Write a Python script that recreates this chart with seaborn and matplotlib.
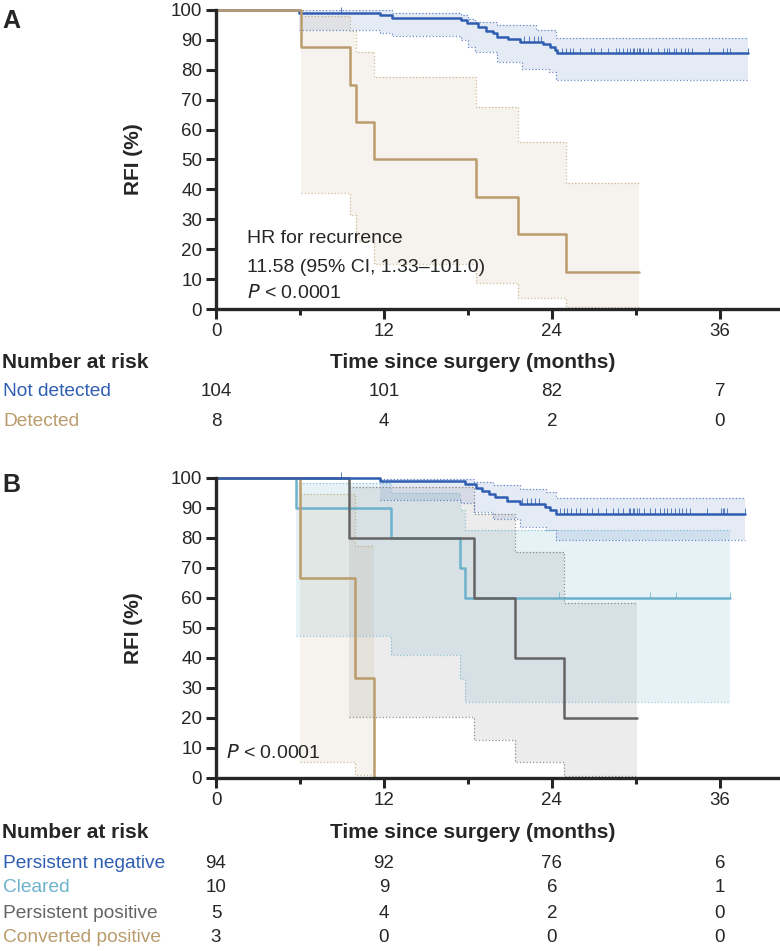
import numpy as np
import matplotlib
matplotlib.use('Agg')
import matplotlib.pyplot as plt
import matplotlib.transforms as mtransforms
import seaborn as sns

sns.set_style('ticks')
plt.rcParams['font.family'] = ['Liberation Sans', 'DejaVu Sans']

# ---- panel A data ----
nd_t = [0, 5.9, 11.7, 12.6, 17.5, 17.9, 18.7, 19.3, 19.8, 20.1, 20.9, 21.7, 23.4, 23.9, 24.2, 24.4, 38.0]
nd_s = [100, 99.1, 98.3, 97.4, 96.6, 95.5, 94.4, 93.0, 92.2, 91.0, 90.2, 89.4, 88.5, 87.7, 86.6, 85.5, 85.5]
nd_ci_t = [5.9, 11.7, 12.6, 17.5, 18.0, 18.5, 20.1, 21.9, 22.9, 23.8, 24.3, 38.0]
nd_hi = [100, 100, 99.1, 98.3, 97.0, 96.0, 95.0, 95.0, 93.3, 93.3, 90.7, 90.7]
nd_lo = [93.3, 92.4, 91.4, 90.0, 87.7, 86.0, 82.7, 80.2, 80.2, 79.3, 76.5, 76.5]
nd_cens = [8.9, 22.0, 22.4, 22.7, 23.0, 23.2, 24.7, 25.0, 25.3, 25.5, 26.0, 26.8, 27.0, 27.5,
           28.0, 28.6, 28.8, 29.1, 29.4, 29.6, 29.8, 29.9, 30.1, 30.2, 30.3, 30.5, 30.9, 31.1,
           31.6, 32.0, 32.2, 32.4, 32.7, 32.9, 33.2, 33.5, 33.7, 34.0, 35.2, 36.2, 36.5, 36.7, 38.0]

det_t = [0, 6.1, 9.6, 10.0, 11.3, 18.6, 21.6, 25.0, 30.2]
det_s = [100, 87.5, 75, 62.5, 50, 37.5, 25, 12.5, 12.5]
det_ci_t = [6.1, 9.6, 10.0, 11.3, 18.6, 21.6, 25.0, 30.2]
det_hi = [98.1, 93.1, 86.1, 77.5, 67.4, 55.8, 42.1, 42.1]
det_lo = [38.7, 31.5, 22.9, 15.2, 8.7, 3.7, 0.7, 0.7]

risk_a_labels = ['Not detected', 'Detected']
risk_a = [[104, 101, 82, 7], [8, 4, 2, 0]]

# ---- panel B data ----
pn_t = [0, 11.7, 17.8, 18.6, 19.0, 19.5, 19.9, 20.8, 21.7, 23.5, 23.9, 24.3, 37.8]
pn_s = [100, 98.9, 97.9, 96.8, 95.7, 94.7, 93.6, 92.5, 91.4, 90.3, 89.2, 88.0, 88.0]
pn_ci_t = [11.7, 17.5, 18.4, 19.8, 21.7, 23.6, 24.3, 37.8]
pn_hi = [99.7, 99.7, 98.7, 97.8, 96.5, 95.5, 93.2, 93.2]
pn_lo = [92.6, 91.8, 88.7, 86.4, 83.7, 82.6, 79.2, 79.2]
pn_cens = [8.9, 21.9, 22.2, 22.5, 22.8, 23.1, 24.6, 24.9, 25.1, 25.4, 25.7, 26.0, 26.5, 26.9,
           27.3, 27.9, 28.4, 28.7, 29.1, 29.5, 29.6, 29.8, 29.9, 30.1, 30.2, 30.6, 31.0, 31.4,
           31.7, 32.0, 32.2, 32.5, 32.8, 33.1, 33.3, 33.6, 33.9, 35.1, 36.1, 36.2, 36.3, 36.5, 37.8]

cl_t = [0, 5.7, 12.5, 17.4, 17.8, 36.7]
cl_s = [100, 90, 80, 70, 60, 60]
cl_hi = [98.4, 95.0, 89.4, 82.6, 82.6]
cl_lo = [47.3, 41.1, 33.0, 25.4, 25.4]
cl_cens = [24.5, 31.0, 32.9, 36.7]

pp_t = [0, 9.5, 18.4, 21.4, 24.9, 30.1]
pp_s = [100, 80, 60, 40, 20, 20]
pp_hi = [96.9, 88.1, 75.3, 58.5, 58.5]
pp_lo = [20.4, 12.6, 5.2, 0.8, 0.8]

cp_t = [0, 6.0, 9.9, 11.3]
cp_s = [100, 66.7, 33.3, 0]
cp_hi = [94.7, 77.4, 77.4]
cp_lo = [5.4, 0.9, 0.9]

risk_b_labels = ['Persistent negative', 'Cleared', 'Persistent positive', 'Converted positive']
risk_b = [[94, 92, 76, 6], [10, 9, 6, 1], [5, 4, 2, 0], [3, 0, 0, 0]]

risk_times = [0, 12, 24, 36]

BLUE = '#2F5DB1'
TAN = '#BA9C6C'
CYAN = '#6DB2CC'
GREY = '#646464'

FS = 13.5
FSB = 15
W, H = 780, 951


def km(ax, t, s, color, ci_t=None, lo=None, hi=None, fill_alpha=0.12, cens=None):
    if ci_t is not None:
        ax.fill_between(ci_t, lo, hi, step='post', color=color, alpha=fill_alpha, lw=0)
        ax.step(ci_t, lo, where='post', color=color, ls=':', lw=0.9, alpha=0.7)
        ax.step(ci_t, hi, where='post', color=color, ls=':', lw=0.9, alpha=0.7)
    sns.lineplot(x=t, y=s, drawstyle='steps-post', color=color, lw=1.8,
                 estimator=None, sort=False, ax=ax, clip_on=False)
    if cens is not None:
        idx = np.searchsorted(t, cens, side='right') - 1
        ys = np.array(s)[idx] + 0.9
        ax.plot(cens, ys, ls='none', marker='|', ms=4.5, mew=0.7, color=color,
                alpha=0.8, clip_on=False)


def style_axes(ax):
    ax.set_xlim(0, 40.3)
    ax.set_ylim(0, 100)
    ax.set_xticks([0, 12, 24, 36])
    ax.set_xticks([6, 18, 30], minor=True)
    ax.set_yticks(range(0, 101, 10))
    ax.tick_params(axis='both', which='major', labelsize=FS, width=2.2, length=7, pad=3)
    ax.tick_params(axis='x', which='minor', width=2.2, length=4)
    for side in ['top', 'right']:
        ax.spines[side].set_visible(False)
    for side in ['left', 'bottom']:
        ax.spines[side].set_linewidth(2.4)
    ax.set_ylabel('RFI (%)', fontsize=FSB, fontweight='bold')
    ax.yaxis.set_label_coords(-0.129, 0.5)
    ax.set_xlabel('Time since surgery (months)', fontsize=FSB, fontweight='bold')


def risk_table(fig, ax, y_head, y_rows, labels, colors, counts):
    tr = mtransforms.blended_transform_factory(ax.transData, fig.transFigure)
    fig.text(2 / W, 1 - y_head / H, 'Number at risk', fontsize=FSB, fontweight='bold',
             va='center', ha='left')
    for lab, col, row, yy in zip(labels, colors, counts, y_rows):
        fig.text(3 / W, 1 - yy / H, lab, color=col, fontsize=FS + 0.3, va='center', ha='left')
        for tt, n in zip(risk_times, row):
            ax.text(tt, 1 - yy / H, str(n), transform=tr, fontsize=FS, ha='center', va='center')


fig = plt.figure(figsize=(W / 100, H / 100), dpi=100)
axA = fig.add_axes([216 / W, 1 - 309 / H, (W - 216) / W, 299 / H])
axB = fig.add_axes([216 / W, 1 - 778 / H, (W - 216) / W, 300 / H])

# panel A
km(axA, nd_t, nd_s, BLUE, nd_ci_t, nd_lo, nd_hi, 0.12, nd_cens)
km(axA, det_t, det_s, TAN, det_ci_t, det_lo, det_hi, 0.12)
style_axes(axA)
axA.xaxis.set_label_coords(0.455, -(362 - 309) / 299)
axA.xaxis.label.set_va('center')
axA.text(2.2, 23.5, 'HR for recurrence', fontsize=FS + 0.5, va='center')
axA.text(2.2, 14.0, '11.58 (95% CI, 1.33\u2013101.0)', fontsize=FS + 0.5, va='center')
axA.text(2.2, 5.3, r'$P$ < 0.0001', fontsize=FS + 0.5, va='center')
fig.text(2 / W, 1 - 21 / H, 'A', fontsize=18, fontweight='bold', va='center', ha='left')
risk_table(fig, axA, 362, [392, 422], risk_a_labels, [BLUE, TAN], risk_a)

# panel B
km(axB, cl_t, cl_s, CYAN, cl_t[1:], cl_lo, cl_hi, 0.16, cl_cens)
km(axB, pp_t, pp_s, GREY, pp_t[1:], pp_lo, pp_hi, 0.12)
km(axB, cp_t, cp_s, TAN, cp_t[1:], cp_lo, cp_hi, 0.12)
km(axB, pn_t, pn_s, BLUE, pn_ci_t, pn_lo, pn_hi, 0.12, pn_cens)
style_axes(axB)
axB.xaxis.set_label_coords(0.455, -(832 - 778) / 300)
axB.xaxis.label.set_va('center')
axB.text(0.75, 8.4, r'$P$ < 0.0001', fontsize=FS + 0.5, va='center')
fig.text(2 / W, 1 - 485 / H, 'B', fontsize=18, fontweight='bold', va='center', ha='left')
risk_table(fig, axB, 832, [863, 888, 913, 938], risk_b_labels, [BLUE, CYAN, GREY, TAN], risk_b)

fig.savefig('out.png', dpi=100)
